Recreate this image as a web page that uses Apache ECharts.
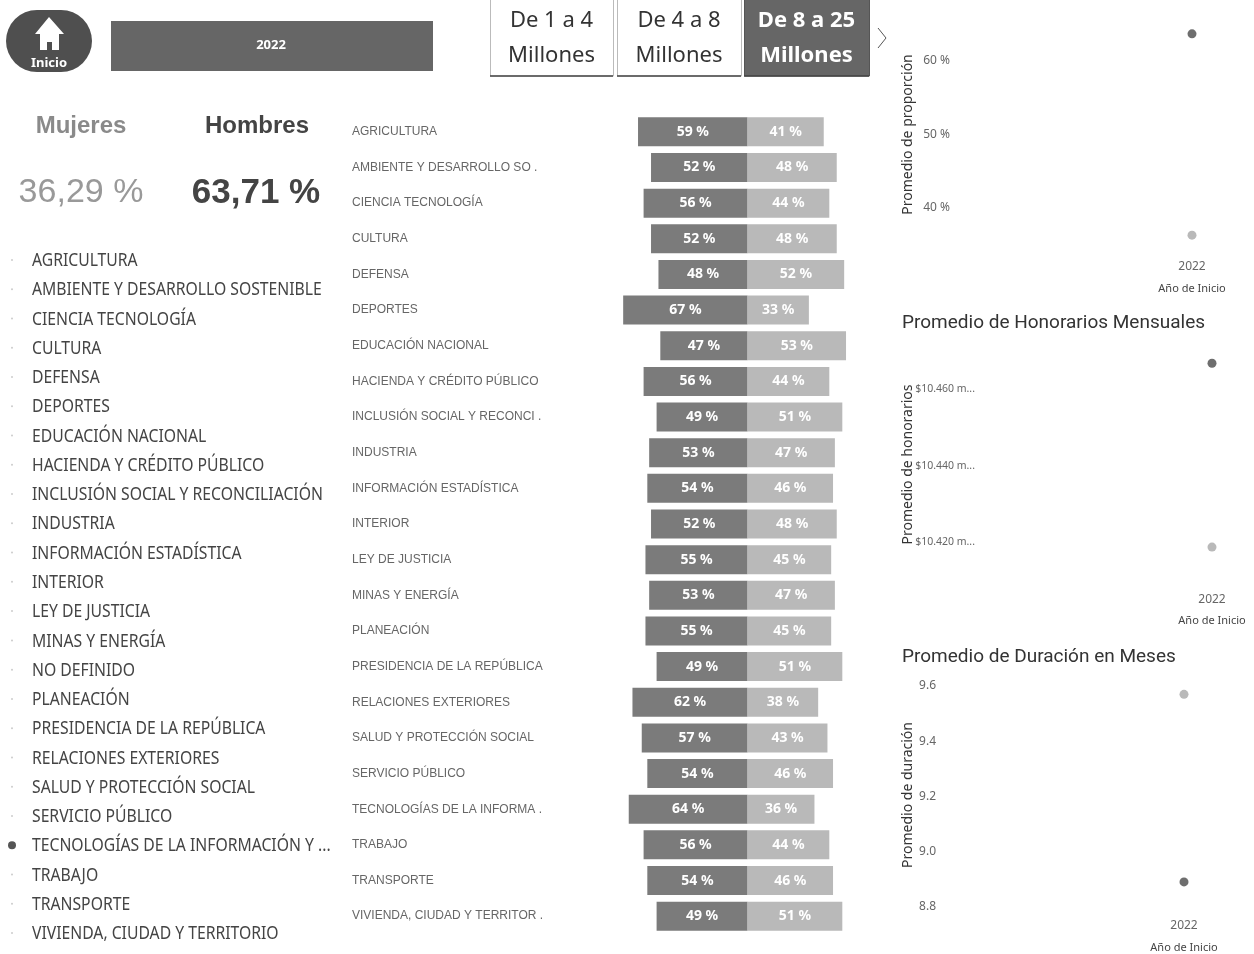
<!DOCTYPE html>
<html><head><meta charset="utf-8">
<style>html,body{margin:0;padding:0;background:#fff}#c{width:1254px;height:954px}</style>
<script src="https://cdn.jsdelivr.net/npm/echarts@6/dist/echarts.min.js"></script>
</head><body><div id="c"></div>
<script>
const categories = ['AGRICULTURA','AMBIENTE Y DESARROLLO SO .','CIENCIA TECNOLOGÍA','CULTURA','DEFENSA','DEPORTES','EDUCACIÓN NACIONAL','HACIENDA Y CRÉDITO PÚBLICO','INCLUSIÓN SOCIAL Y RECONCI .','INDUSTRIA','INFORMACIÓN ESTADÍSTICA','INTERIOR','LEY DE JUSTICIA','MINAS Y ENERGÍA','PLANEACIÓN','PRESIDENCIA DE LA REPÚBLICA','RELACIONES EXTERIORES','SALUD Y PROTECCIÓN SOCIAL','SERVICIO PÚBLICO','TECNOLOGÍAS DE LA INFORMA .','TRABAJO','TRANSPORTE','VIVIENDA, CIUDAD Y TERRITOR .'];
const mujeres = [59,52,56,52,48,67,47,56,49,53,54,52,55,53,55,49,62,57,54,64,56,54,49];
const hombres = [41,48,44,48,52,33,53,44,51,47,46,48,45,47,45,51,38,43,46,36,44,46,51];
const slicer = ['AGRICULTURA','AMBIENTE Y DESARROLLO SOSTENIBLE','CIENCIA TECNOLOGÍA','CULTURA','DEFENSA','DEPORTES','EDUCACIÓN NACIONAL','HACIENDA Y CRÉDITO PÚBLICO','INCLUSIÓN SOCIAL Y RECONCILIACIÓN','INDUSTRIA','INFORMACIÓN ESTADÍSTICA','INTERIOR','LEY DE JUSTICIA','MINAS Y ENERGÍA','NO DEFINIDO','PLANEACIÓN','PRESIDENCIA DE LA REPÚBLICA','RELACIONES EXTERIORES','SALUD Y PROTECCIÓN SOCIAL','SERVICIO PÚBLICO','TECNOLOGÍAS DE LA INFORMACIÓN Y ...','TRABAJO','TRANSPORTE','VIVIENDA, CIUDAD Y TERRITORIO'];
const selectedSlicer = 'TECNOLOGÍAS DE LA INFORMACIÓN Y ...';
const years = ['2022'];
const proporcion = [36.29, 63.71];
const honorarios = [10418.7, 10466.8];
const duracion = [9.57, 8.89];

const DARK='#4a4a4a', LIGHT='#a8a8a8', WOMEN='#7b7b7b', MEN='#b9b9b9';
const TF='"Noto Sans"';
const txt=(x,y,t,o,extra)=>{const s=Object.assign({text:t,fill:'#333',font:`16px ${TF}`,verticalAlign:'middle',align:'left'},o||{});
  return Object.assign({type:'text',x,y,silent:true,style:s},extra||{});};
const gfx=[];
// header
gfx.push({type:'rect',shape:{x:6,y:10,width:86,height:62,r:31},style:{fill:'#4f4f4f'}});
gfx.push({type:'polygon',shape:{points:[[49,17],[35,34],[40,34],[40,50],[47,50],[47,42],[52,42],[52,50],[59,50],[59,34],[64,34]]},style:{fill:'#fff'}});
gfx.push(txt(49,63,'Inicio',{fill:'#fff',font:`bold 13px ${TF}`,align:'center'}));
gfx.push({type:'rect',shape:{x:111,y:21,width:322,height:50},style:{fill:'#666'}});
gfx.push(txt(271,45,'2022',{fill:'#fff',font:`bold 13px ${TF}`,align:'center'}));
// range buttons
[[490,123,'De 1 a 4',false],[617,124,'De 4 a 8',false],[744,125,'De 8 a 25',true]].forEach(([x,w,t,on])=>{
  gfx.push({type:'rect',shape:{x:x+.5,y:-2,width:w,height:78},style:{fill:on?'#666':'#fff',stroke:on?'#555':'#bbb',lineWidth:1}});
  gfx.push({type:'line',shape:{x1:x,y1:76,x2:x+w,y2:76},style:{stroke:'#444',lineWidth:1.5}});
  const o={fill:on?'#fff':'#333',font:`${on?'bold ':''}22px ${TF}`,align:'center'};
  gfx.push(txt(x+w/2,21,t,o)); gfx.push(txt(x+w/2,56,'Millones',o));
});
gfx.push({type:'polyline',shape:{points:[[878,28],[886,38],[878,48]]},style:{stroke:'#555',fill:'none',lineWidth:1}});
// KPIs
gfx.push(txt(81,126,'Mujeres',{fill:'#8a8a8a',font:'bold 24px "Liberation Sans"',align:'center'}));
gfx.push(txt(257,126,'Hombres',{fill:'#444',font:'bold 24px "Liberation Sans"',align:'center'}));
gfx.push(txt(81,193,'36,29 %',{fill:'#999',font:'34px "Liberation Sans"',align:'center'}));
gfx.push(txt(256,193,'63,71 %',{fill:'#444',font:'bold 35px "Liberation Sans"',align:'center'}));
// slicer list
slicer.forEach((s,i)=>{
  const y=261+i*29.26, on=s===selectedSlicer;
  gfx.push({type:'circle',shape:{cx:12,cy:y-1,r:on?4:1},style:{fill:on?'#555':'#ccc'}});
  gfx.push(txt(32,y,s,{fill:'#444',font:`18px ${TF}`},{scaleX:0.873}));
});
// section titles
gfx.push(txt(902,323,'Promedio de Honorarios Mensuales',{fill:'#333',font:'19px Roboto'}));
gfx.push(txt(902,657,'Promedio de Duración en Meses',{fill:'#333',font:'19px Roboto'}));

const grids=[
 {left:617.6,width:260,top:114,height:820},
 {left:1134,width:116,top:17,height:235},
 {left:1172,width:80,top:351,height:237},
 {left:1144,width:80,top:675,height:240}
];
const AX='#666';
const xCat=(i,lm,ng)=>({type:'category',gridIndex:i,data:years,axisLine:{show:false},axisTick:{show:false},
  axisLabel:{color:AX,fontSize:12,margin:lm,fontFamily:TF},name:'Año de Inicio',nameLocation:'middle',nameGap:ng,nameTextStyle:{color:'#444',fontSize:11,fontFamily:TF}});
const yVal=(i,min,max,ticks,fmt,margin,name,gap,pad,lf)=>({type:'value',gridIndex:i,min,max,splitLine:{show:false},axisLine:{show:false},axisTick:{show:false},
  axisLabel:{customValues:ticks,color:AX,fontSize:lf||12,margin,formatter:fmt,fontFamily:TF},
  name,nameLocation:'middle',nameGap:gap,nameMoveOverlap:false,nameTextStyle:{color:'#333',fontSize:14,fontFamily:TF,padding:pad||0}});
const pts=(i,vals)=>({type:'scatter',xAxisIndex:i,yAxisIndex:i,symbolSize:9,silent:true,
  data:vals.map((v,k)=>({value:['2022',v],itemStyle:{color:k===0?LIGHT:DARK}}))});

const opt={animation:false,backgroundColor:'#fff',graphic:{elements:gfx},grid:grids,
 xAxis:[{type:'value',gridIndex:0,min:-70,max:70,show:false},xCat(1,9,31),xCat(2,6,27),xCat(3,5,27)],
 yAxis:[{type:'category',gridIndex:0,data:categories,inverse:true,axisLine:{show:false},axisTick:{show:false},
   axisLabel:{align:'left',margin:265.6,color:'#666',fontSize:12,fontFamily:'"Liberation Sans"',interval:0}},
  yVal(1,34,66,[40,50,60],v=>v+' %',184,'Promedio de proporción',219),
  yVal(2,10408,10470,[10420,10440,10460],v=>'$'+(v/1000).toFixed(3)+' m...',197,'Promedio de honorarios',257,[0,0,0,10],10.5),
  yVal(3,8.77,9.64,[8.8,9.0,9.2,9.4,9.6],v=>v.toFixed(1),208,'Promedio de duración',229)],
 series:[
  {type:'bar',name:'Mujeres',stack:'t',barWidth:29,xAxisIndex:0,yAxisIndex:0,silent:true,data:mujeres.map(v=>-v),itemStyle:{color:WOMEN},
    label:{show:true,position:'inside',color:'#fff',fontWeight:'bold',fontSize:14,fontFamily:TF,formatter:p=>Math.abs(p.value)+' %'}},
  {type:'bar',name:'Hombres',stack:'t',barWidth:29,xAxisIndex:0,yAxisIndex:0,silent:true,data:hombres,itemStyle:{color:MEN},
    label:{show:true,position:'inside',color:'#fff',fontWeight:'bold',fontSize:14,fontFamily:TF,formatter:p=>p.value+' %'}},
  pts(1,proporcion),pts(2,honorarios),pts(3,duracion)
 ]};
echarts.init(document.getElementById('c'),null,{renderer:'canvas'}).setOption(opt);
</script></body></html>
